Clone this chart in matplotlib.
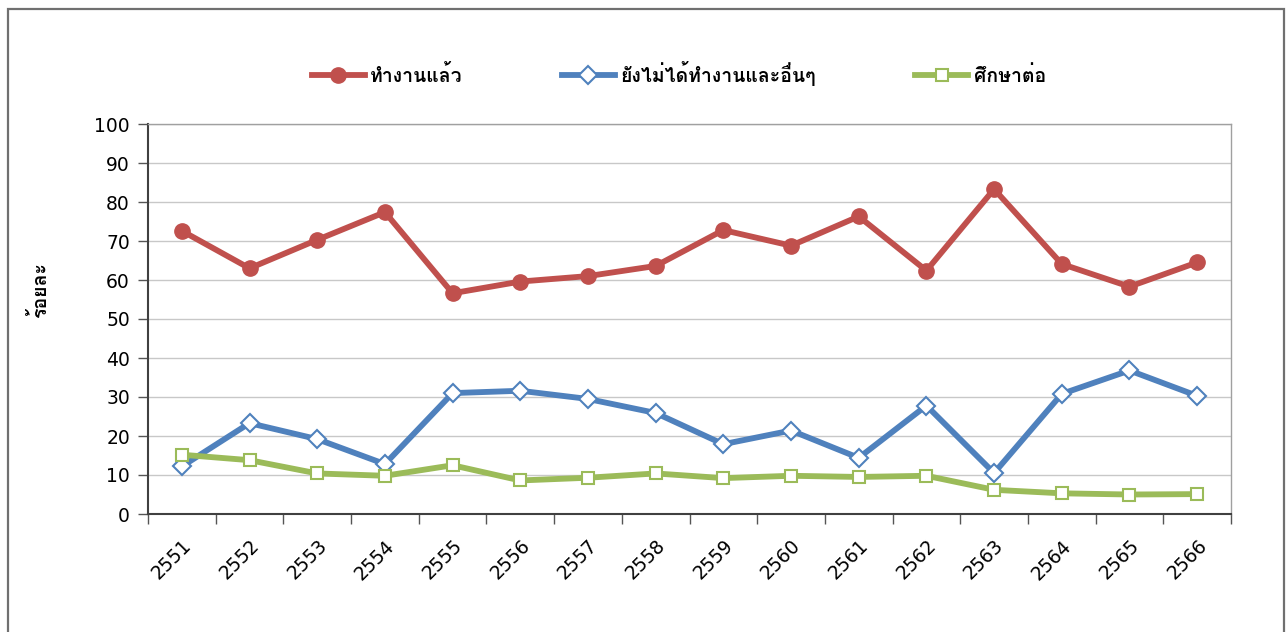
import matplotlib
matplotlib.use("Agg")
import matplotlib.pyplot as plt
from matplotlib import font_manager
from matplotlib.ft2font import FT2Font
from matplotlib.patches import Rectangle
from matplotlib.transforms import ScaledTranslation

years = ["2551", "2552", "2553", "2554", "2555", "2556", "2557", "2558",
         "2559", "2560", "2561", "2562", "2563", "2564", "2565", "2566"]
employed = [72.6, 63.0, 70.3, 77.4, 56.6, 59.6, 61.0, 63.6,
            72.8, 68.8, 76.3, 62.4, 83.3, 64.1, 58.3, 64.5]
not_employed = [12.2, 23.3, 19.2, 12.8, 31.0, 31.6, 29.5, 25.9,
                17.9, 21.4, 14.4, 27.8, 10.5, 30.8, 36.8, 30.3]
studying = [15.2, 13.8, 10.4, 9.8, 12.5, 8.6, 9.3, 10.4,
            9.2, 9.8, 9.5, 9.8, 6.2, 5.3, 5.0, 5.1]
series_names = ["ทำงานแล้ว", "ยังไม่ได้ทำงานและอื่นๆ", "ศึกษาต่อ"]
y_label = "ร้อยละ"

# find a font that has Thai glyphs
thai_family = None
for f in font_manager.fontManager.ttflist:
    try:
        cm = FT2Font(f.fname).get_charmap()
        if 0x0E17 in cm and 0x0E33 in cm:
            thai_family = f.name
            break
    except Exception:
        pass
families = ([thai_family] if thai_family else []) + ["DejaVu Sans"]
plt.rcParams["font.family"] = ["DejaVu Sans"] + ([thai_family] if thai_family else [])

W, H = 1288, 632
fig = plt.figure(figsize=(W / 100, H / 100), dpi=100)
ax = fig.add_axes([148 / W, 1 - 514 / H, (1231 - 148) / W, (514 - 124) / H])

x = list(range(len(years)))
red, blue, green = "#C0504D", "#4F81BD", "#9BBB59"
ax.plot(x, employed, color=red, lw=4.2, marker="o", ms=11, mfc=red, mec=red,
        label=series_names[0], zorder=3)
ax.plot(x, not_employed, color=blue, lw=4.2, marker="D", ms=9.5, mfc="white",
        mec=blue, mew=1.5, label=series_names[1], zorder=3)
ax.plot(x, studying, color=green, lw=4.2, marker="s", ms=8.5, mfc="white",
        mec=green, mew=1.5, label=series_names[2], zorder=3)

ax.set_xlim(-0.5, len(years) - 0.5)
ax.set_ylim(0, 100)
ax.set_yticks(range(0, 101, 10))
ax.set_yticklabels([str(v) for v in range(0, 101, 10)], fontsize=13.5)
ax.set_xticks([i - 0.5 for i in range(len(years) + 1)])
ax.set_xticklabels([])
ax.set_xticks(x, minor=True)
ax.set_xticklabels(years, minor=True, rotation=45, ha="right", va="top",
                   rotation_mode="anchor", fontsize=13.5)
offset = ScaledTranslation(-8 / 100, 0, fig.dpi_scale_trans)
for lab in ax.get_xticklabels(minor=True):
    lab.set_transform(lab.get_transform() + offset)
ax.tick_params(axis="x", which="minor", length=0, pad=16)
ax.tick_params(axis="x", which="major", length=7, width=1, color="#555555")
ax.tick_params(axis="y", length=7, width=1, color="#555555", pad=6)
ax.grid(axis="y", color="#C8C8C8", lw=1)
ax.set_axisbelow(True)
for s in ["left", "bottom"]:
    ax.spines[s].set_color("#404040")
    ax.spines[s].set_linewidth(1.5)
for s in ["top", "right"]:
    ax.spines[s].set_color("#A0A0A0")
    ax.spines[s].set_linewidth(1)

fig.text(40 / W, 1 - 290 / H, y_label, rotation=90, ha="center", va="center",
         fontsize=14, fontweight="bold", family=families)

leg = fig.legend(loc="center left", bbox_to_anchor=(312 / W, 1 - 73 / H), ncol=3,
                 frameon=False, handlelength=2.7, columnspacing=5.1,
                 handletextpad=0.3, borderaxespad=0, borderpad=0,
                 prop={"family": families, "size": 14, "weight": "bold"})

fig.patches.append(Rectangle((8 / W, -0.05), (1284 - 8) / W, 1.05 - 8.5 / H,
                             transform=fig.transFigure, fill=False,
                             edgecolor="#707070", lw=1.6))

fig.savefig("out.png", dpi=100)
